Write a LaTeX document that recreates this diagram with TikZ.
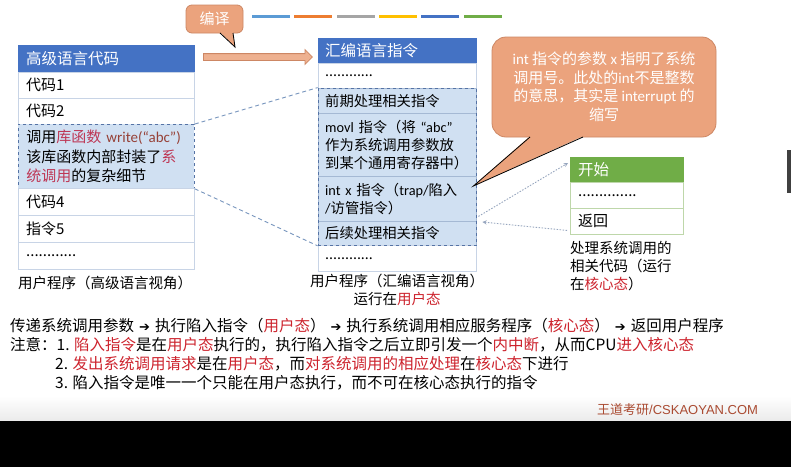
\documentclass[tikz,border=0pt]{standalone}
\usepackage{fontspec}
\setmainfont{Noto Sans CJK SC}
\newfontfamily\enfont{Carlito}
\newfontfamily\symfont{DejaVu Sans}
\newfontfamily\sitefont{Liberation Sans}
\usetikzlibrary{shapes.arrows,fit}

\definecolor{hdrblue}{RGB}{68,114,196}
\definecolor{hdrgreen}{RGB}{112,173,71}
\definecolor{cellline}{RGB}{200,212,230}
\definecolor{callline}{RGB}{165,185,212}
\definecolor{kline}{RGB}{190,215,170}
\definecolor{callfill}{RGB}{208,224,242}
\definecolor{calldash}{RGB}{85,115,165}
\definecolor{linkgray}{RGB}{120,150,190}
\definecolor{dotgray}{RGB}{150,165,190}
\definecolor{notefill}{RGB}{235,163,125}
\definecolor{noteline}{RGB}{205,135,100}
\definecolor{keyred}{RGB}{205,35,45}
\definecolor{libred}{RGB}{190,55,85}
\definecolor{writebrown}{RGB}{150,65,55}
\definecolor{sitebrown}{RGB}{170,75,50}
\definecolor{barblue}{RGB}{91,155,213}
\definecolor{barorange}{RGB}{237,125,49}
\definecolor{bargray}{RGB}{165,165,165}
\definecolor{bargold}{RGB}{255,192,0}
\definecolor{bardark}{RGB}{68,114,196}
\definecolor{bargreen}{RGB}{112,173,71}

\newcommand\enf[1]{{\enfont #1}}
\newcommand\kw[1]{\textcolor{keyred}{#1}}
\newcommand\thento{\hspace{5pt}{\symfont\fontsize{13}{13}\selectfont ➔}\hspace{5pt}}

\tikzset{
  cell/.style={draw=cellline, fill=white, anchor=north west, inner xsep=8pt, inner ysep=0pt,
    align=left, font=\fontsize{15}{19.5}\selectfont},
  hlcol/.style={text width=160pt},
  asmcol/.style={text width=144pt, inner xsep=7pt, font=\fontsize{14.3}{18}\selectfont},
  kcol/.style={text width=97pt, draw=kline},
  headcell/.style={cell, fill=hdrblue, draw=hdrblue, text=white, font=\fontsize{15.5}{19}\selectfont},
  callrow/.style={fill=callfill, draw=callline},
  callbox/.style={draw=calldash, dashed, line width=0.8pt},
  caption/.style={inner sep=0pt, font=\fontsize{14.5}{18}\selectfont},
  noteline/.style={inner sep=0pt, anchor=west, font=\fontsize{15.5}{19}\selectfont},
  linkdash/.style={draw=linkgray, line width=0.9pt, dash pattern=on 4pt off 3pt},
  dotarrow/.style={->, draw=dotgray, line width=0.9pt, dash pattern=on 1.5pt off 1.5pt},
  bubble/.style={fill=notefill, draw=noteline, line width=0.8pt, text=white},
}

\begin{document}
\begin{tikzpicture}[x=1pt,y=-1pt,>=stealth]
\useasboundingbox (0,0) rectangle (791,467);
\fill[white] (0,0) rectangle (791,421);
\shade[top color=white, bottom color=black!8] (0,396) rectangle (791,421);
\fill[black] (0,421) rectangle (791,467);
\fill[black!75] (787,150) rectangle (791,193);

\foreach \bx/\bc in {252/barblue,294/barorange,337/bargray,379/bargold,421/bardark,464/bargreen}
  \draw[\bc, line width=3pt] (\bx,16) -- ++(38,0);

\node[headcell, hlcol, minimum height=27pt] (hlhead) at (18,45) {高级语言代码};
\node[cell, hlcol, minimum height=26pt] (hl1) at (18,72) {代码1};
\node[cell, hlcol, minimum height=26pt] (hl2) at (18,98) {代码2};
\node[cell, hlcol, callrow, callbox, minimum height=64pt] (hlcall) at (18,124)
  {调用\textcolor{libred}{库函数} \enf{\textcolor{writebrown}{write(“abc”)}}\\该库函数内部封装了\textcolor{libred}{系}\\\textcolor{libred}{统调用}的复杂细节};
\node[cell, hlcol, minimum height=27pt] (hl4) at (18,188) {代码4};
\node[cell, hlcol, minimum height=27pt] (hl5) at (18,215) {指令5};
\node[cell, hlcol, minimum height=27pt] (hl6) at (18,242) {............};
\node[caption, anchor=west] (hlcap) at (18,283) {用户程序（高级语言视角）};

\node[headcell, asmcol, font=\fontsize{15.5}{19}\selectfont, minimum height=25pt] (asmhead) at (318,38) {汇编语言指令};
\node[cell, asmcol, minimum height=25pt] (asm0) at (318,63) {............};
\node[cell, asmcol, callrow, minimum height=25pt] (asmpre) at (318,88) {前期处理相关指令};
\node[cell, asmcol, callrow, minimum height=63pt] (asmmovl) at (318,113)
  {\enf{movl} 指令（将 \enf{“abc”}\\作为系统调用参数放\\到某个通用寄存器中）};
\node[cell, asmcol, callrow, minimum height=45pt] (asmint) at (318,176)
  {\enf{int x} 指令（\enf{trap/}陷入\\\enf{/}访管指令）};
\node[cell, asmcol, callrow, minimum height=24pt] (asmpost) at (318,221) {后续处理相关指令};
\node[cell, asmcol, minimum height=26pt] (asmend) at (318,245) {............};
\node[callbox, fit=(asmpre)(asmpost), inner sep=0pt] (asmblock) {};
\node[caption, align=center, anchor=north] (asmcap) at (397,274) {用户程序（汇编语言视角）\\运行在\kw{用户态}};

\draw[linkdash] (hlcall.north east) -- (asmblock.north west);
\draw[linkdash] (hlcall.south east) -- (asmblock.south west);

\node[headcell, kcol, fill=hdrgreen, draw=hdrgreen, minimum height=25pt] (khead) at (570,157) {开始};
\node[cell, kcol, minimum height=26pt] (kdots) at (570,182) {..............};
\node[cell, kcol, minimum height=26pt] (kret) at (570,208) {返回};
\node[caption, align=left, anchor=north west] (kcap) at (570,241) {处理系统调用的\\相关代码（运行\\在\kw{核心态}）};

\draw[dotarrow] ([shift={(2pt,5pt)}]asmint.south east) -- ([shift={(-2pt,-6pt)}]khead.north west);
\draw[dotarrow] ([shift={(-3pt,4pt)}]kret.south west) -- ([shift={(6pt,-1pt)}]asmpost.north east);

\node[single arrow, fill=notefill!85!white, draw=noteline, line width=0.8pt, anchor=tail,
  minimum height=109pt, minimum width=14pt, inner ysep=3pt, inner xsep=0pt,
  single arrow head extend=4pt] (compilearrow) at (203,57) {};

\node[bubble, rounded corners=6pt, minimum width=57pt, minimum height=28pt,
  font=\fontsize{15}{18}\selectfont] (compilenote) at (214.5,19) {编译};
\coordinate (compiletip) at (235,47);
\fill[notefill] ([shift={(5.5pt,1.2pt)}]compilenote.south) -- (compiletip) -- ([shift={(18.5pt,1.2pt)}]compilenote.south) -- cycle;
\draw[noteline, line width=0.8pt] ([shift={(5.5pt,0.4pt)}]compilenote.south) -- (compiletip) -- ([shift={(18.5pt,0.4pt)}]compilenote.south);

\node[bubble, rounded corners=14pt, minimum width=224pt, minimum height=100pt, align=center,
  font=\fontsize{15}{18.5}\selectfont] (intnote) at (604,87)
  {\enf{int} 指令的参数 \enf{x} 指明了系统\\调用号。此处的\enf{int}不是整数\\的意思，其实是 \enf{interrupt} 的\\缩写};
\coordinate (inttip) at ([shift={(-3pt,-10pt)}]asmint.north east);
\fill[notefill] ([shift={(-74pt,1.2pt)}]intnote.south) -- (inttip) -- ([shift={(-21pt,1.2pt)}]intnote.south) -- cycle;
\draw[noteline, line width=0.8pt] ([shift={(-74pt,0.4pt)}]intnote.south) -- (inttip) -- ([shift={(-21pt,0.4pt)}]intnote.south);

\node[noteline] (flowline) at (10,326) {传递系统调用参数\thento 执行陷入指令（\kw{用户态}）\thento 执行系统调用相应服务程序（\kw{核心态}）\thento 返回用户程序};
\node[noteline] (note1) at (10,345) {注意：1. \kw{陷入指令}是在\kw{用户态}执行的，执行陷入指令之后立即引发一个\kw{内中断}，从而CPU\kw{进入核心态}};
\node[noteline] (note2) at (55,364) {2. \kw{发出系统调用请求}是在\kw{用户态}，而\kw{对系统调用的相应处理}在\kw{核心态}下进行};
\node[noteline] (note3) at (55,383) {3. 陷入指令是唯一一个只能在用户态执行，而不可在核心态执行的指令};

\node[inner sep=0pt, anchor=west, text=sitebrown, font=\fontsize{13}{13}\selectfont] (site) at (597,410) {王道考研{\sitefont /CSKAOYAN.COM}};
\end{tikzpicture}
\end{document}
